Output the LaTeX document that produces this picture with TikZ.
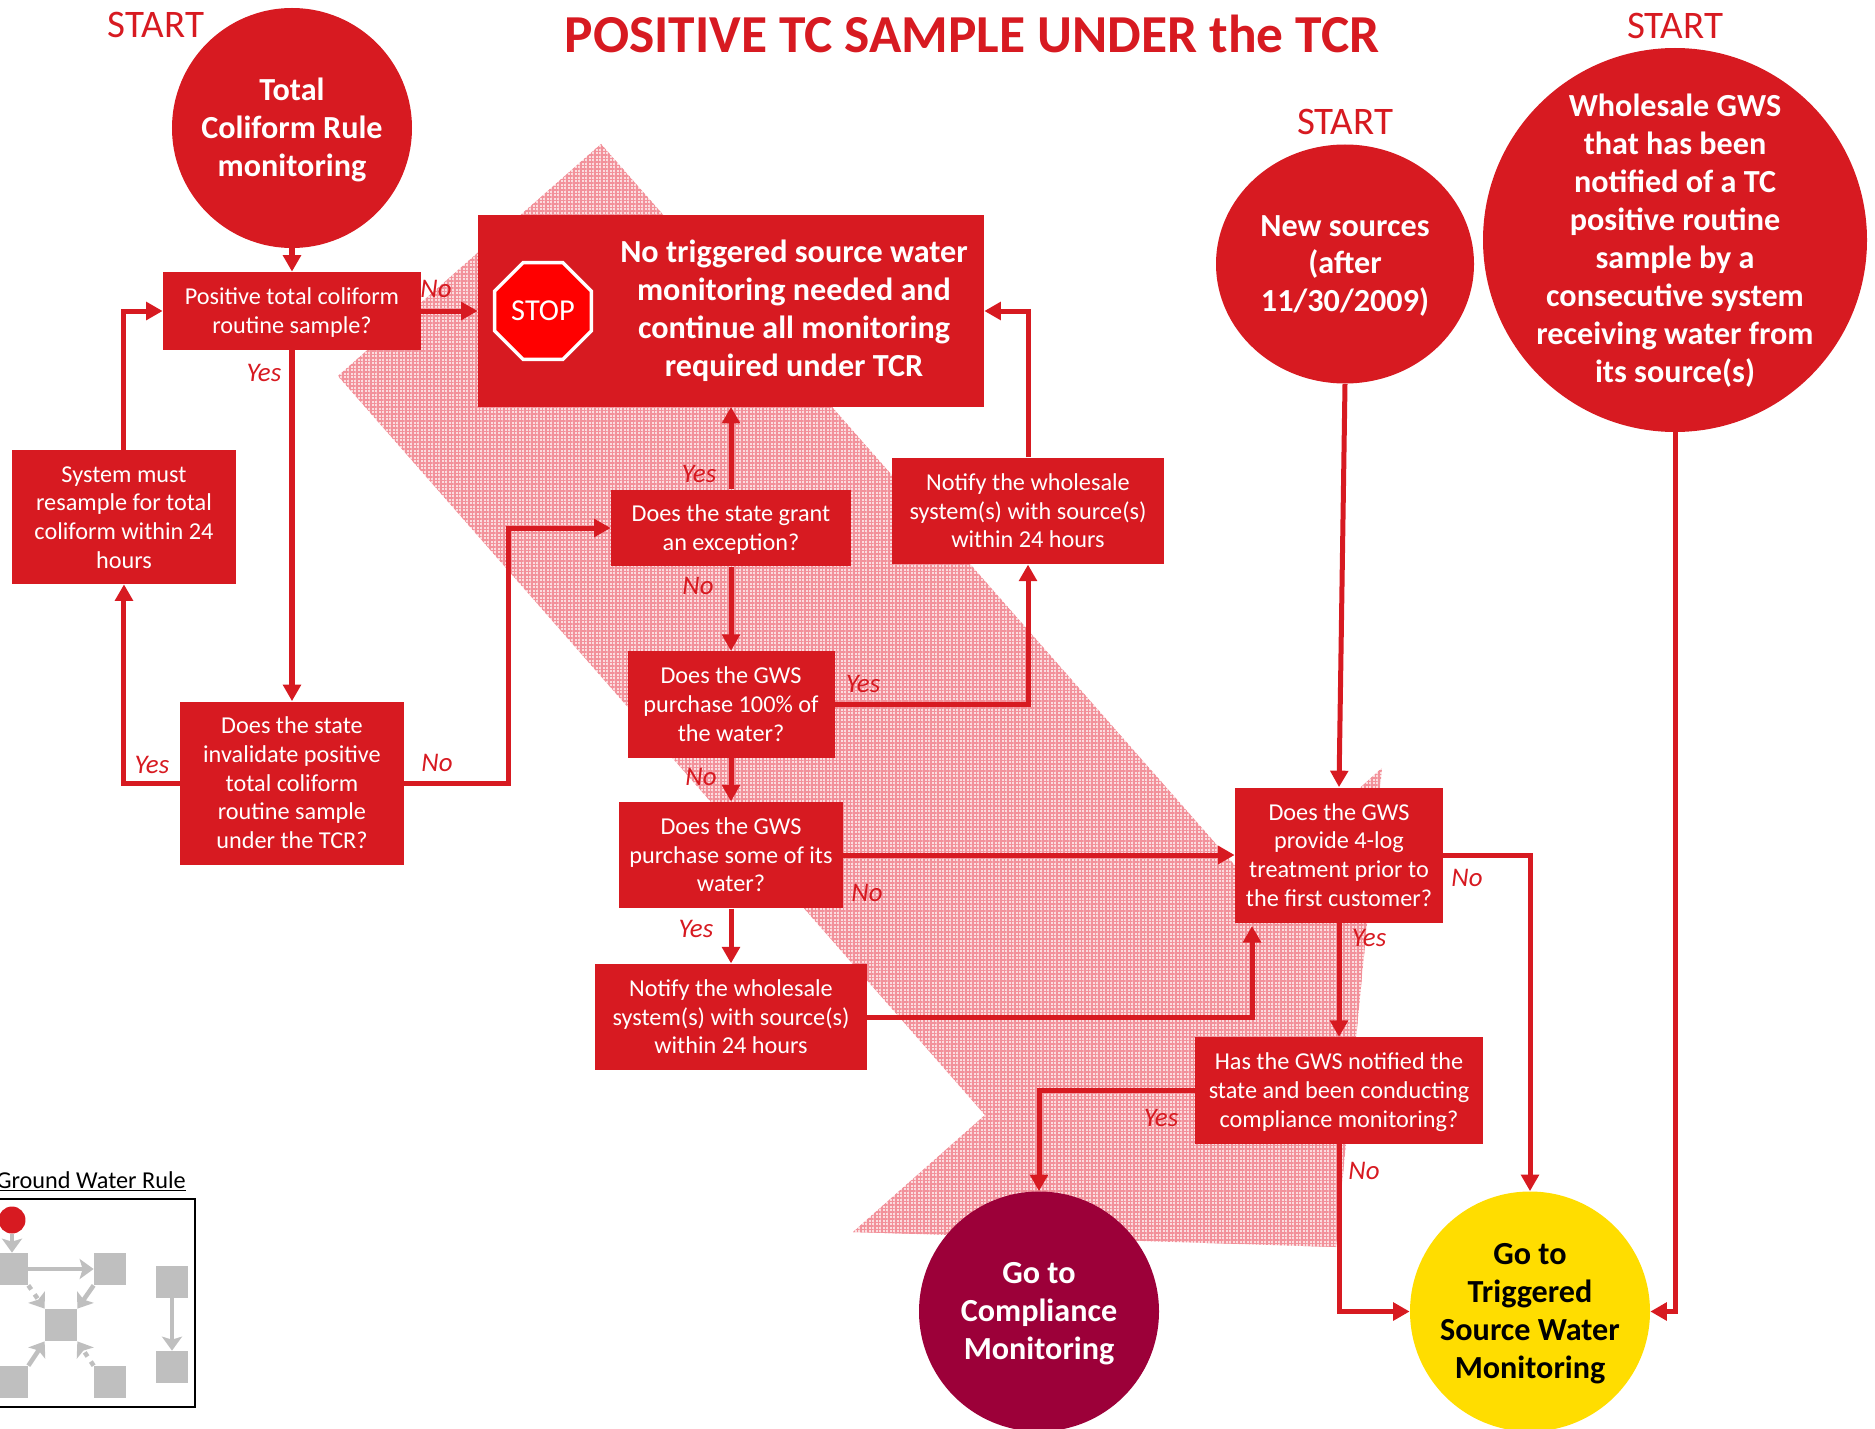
\documentclass[tikz,border=0pt]{standalone}
\usepackage{fontspec}
\setmainfont{Carlito}
\usepackage{tikz}
\usetikzlibrary{arrows.meta}
\usetikzlibrary{shapes,backgrounds,patterns.meta}
\definecolor{tcrred}{HTML}{D71A21}
\definecolor{stopred}{HTML}{FF0000}
\definecolor{maroon}{HTML}{9C0039}
\definecolor{goldy}{HTML}{FFDD00}
\definecolor{greybox}{HTML}{BFBFBF}
\definecolor{hatchred}{HTML}{F2919A}
\definecolor{hatchpink}{HTML}{FBDDDF}
\tikzset{hv/.style={to path={-| (\tikztotarget) \tikztonodes}},
         vh/.style={to path={|- (\tikztotarget) \tikztonodes}}}

\begin{document}
\begin{tikzpicture}[>={Triangle[length=0.33cm,width=0.35cm]},shorten >=0pt,auto,node distance=3cm,
                    flow/.style={->,color=tcrred,line width=0.1cm},
                    minor/.style={->,>={Stealth[length=0.28cm,width=0.4cm,inset=0.06cm]},color=greybox,line width=0.09cm},
                    red box/.style={rectangle,fill=tcrred,text=white,align=flush center,inner sep=0pt,
                      font=\fontsize{13.8}{16.3}\selectfont,
                      execute at begin node={\rule{0pt}{12.2pt}},
                      execute at end node={\rule[-3pt]{0pt}{0pt}}},
                    big text/.style={text=white,align=center,inner sep=0pt,yshift=-0.04cm,
                      font=\fontsize{18.3}{21.6}\selectfont\bfseries},
                    big node/.style={circle,fill=tcrred,minimum size=4.8cm,inner sep=0pt},
                    start/.style={text=tcrred,inner sep=0pt,font=\fontsize{22.2}{26}\selectfont},
                    answer/.style={text=tcrred,inner sep=0pt,font=\fontsize{15.3}{18}\selectfont\itshape},
                    mini box/.style={rectangle,fill=greybox,minimum size=0.64cm,inner sep=0pt}]

  \useasboundingbox (-5.84,2.56) rectangle (31.66,-26.02);

  % left column
  \node[big node] (total) {};
  \node[big text] (totaltext) [below of=total,node distance=0cm] {Total\\Coliform Rule\\monitoring};
  \node[red box,text width=5.16cm,minimum height=1.56cm] (positive) [below of=total,node distance=3.66cm] {Positive total coliform\\routine sample?};
  \node[red box,text width=4.46cm,minimum height=3.26cm] (invalidate) [below of=positive,node distance=9.44cm] {Does the state\\invalidate positive\\total coliform\\routine sample\\under the TCR?};
  \node[red box,text width=4.48cm,minimum height=2.68cm] (resample) [left of=invalidate,node distance=3.36cm,yshift=5.32cm] {System must\\resample for total\\coliform within 24\\hours};

  % middle column
  \node[red box,text width=10.12cm,minimum height=3.82cm] (stop) [right of=positive,node distance=8.78cm] {};
  \node[big text] (stoptext) [right of=stop,node distance=1.26cm,yshift=0.04cm] {No triggered source water\\monitoring needed and\\continue all monitoring\\required under TCR};
  \node[regular polygon,regular polygon sides=8,fill=stopred,draw=white,line width=0.07cm,minimum size=2.09cm,inner sep=0pt,
        text=white,font=\fontsize{17.3}{20}\selectfont] (sign) [left of=stop,node distance=3.76cm] {STOP};
  \node[red box,text width=4.8cm,minimum height=1.53cm] (grant) [below of=stop,node distance=4.34cm] {Does the state grant\\an exception?};
  \node[red box,text width=4.14cm,minimum height=2.13cm] (hundred) [below of=grant,node distance=3.53cm] {Does the GWS\\purchase 100\% of\\the water?};
  \node[red box,text width=4.48cm,minimum height=2.13cm] (some) [below of=hundred,node distance=3.01cm] {Does the GWS\\purchase some of its\\water?};
  \node[red box,text width=5.44cm,minimum height=2.13cm] (notifylow) [below of=some,node distance=3.24cm] {Notify the wholesale\\system(s) with source(s)\\within 24 hours};
  \node[red box,text width=5.44cm,minimum height=2.13cm] (notifyup) [right of=grant,node distance=5.94cm,yshift=0.34cm] {Notify the wholesale\\system(s) with source(s)\\within 24 hours};
  \coordinate[left of=grant,node distance=4.46cm] (turn);

  % right side
  \node[red box,text width=4.16cm,minimum height=2.7cm] (log) [right of=some,node distance=12.16cm] {Does the GWS\\provide 4-log\\treatment prior to\\the first customer?};
  \node[red box,text width=5.76cm,minimum height=2.13cm] (notified) [below of=log,node distance=4.71cm] {Has the GWS notified the\\state and been conducting\\compliance monitoring?};
  \coordinate[below of=log,node distance=1.42cm,xshift=-1.74cm] (logfoot);
  \node[ellipse,fill=tcrred,minimum width=5.16cm,minimum height=4.78cm,inner sep=0pt] (new) [above of=log,node distance=11.82cm,xshift=0.12cm] {};
  \node[big text] (newtext) [below of=new,node distance=0cm] {New sources\\(after\\11/30/2009)};
  \node[big node,minimum size=7.68cm] (whole) [right of=new,node distance=6.6cm,yshift=0.48cm] {};
  \node[big text] (wholetext) [below of=whole,node distance=0cm,yshift=0.02cm] {Wholesale GWS\\that has been\\notified of a TC\\positive routine\\sample by a\\consecutive system\\receiving water from\\its source(s)};
  \node[big node,fill=maroon] (compliance) [below of=notified,node distance=4.42cm,xshift=-6cm] {};
  \node[big text] (compliancetext) [below of=compliance,node distance=0cm] {Go to\\Compliance\\Monitoring};
  \node[big node,fill=goldy] (triggered) [right of=compliance,node distance=9.82cm] {};
  \node[big text,text=black] (triggeredtext) [below of=triggered,node distance=0cm] {Go to\\Triggered\\Source Water\\Monitoring};

  % hatched arrow
  \begin{scope}[on background layer]
    \fill[hatchpink] (6.18,-0.32) -- (19.2,-15.14) -- (21.8,-12.8) -- (20.88,-22.38)
      -- (11.22,-22.08) -- (13.86,-19.74) -- (0.92,-4.96) -- cycle;
    \fill[pattern={Lines[angle=0,distance=0.07cm,line width=0.03cm]},pattern color=hatchred]
      (6.18,-0.32) -- (19.2,-15.14) -- (21.8,-12.8) -- (20.88,-22.38)
      -- (11.22,-22.08) -- (13.86,-19.74) -- (0.92,-4.96) -- cycle;
    \fill[pattern={Lines[angle=90,distance=0.07cm,line width=0.03cm]},pattern color=hatchred]
      (6.18,-0.32) -- (19.2,-15.14) -- (21.8,-12.8) -- (20.88,-22.38)
      -- (11.22,-22.08) -- (13.86,-19.74) -- (0.92,-4.96) -- cycle;
  \end{scope}

  % titles
  \node[text=tcrred,inner sep=0pt,font=\fontsize{30.4}{36}\selectfont\bfseries] (title) [above of=stop,node distance=5.54cm,xshift=4.82cm] {POSITIVE TC SAMPLE UNDER the TCR};
  \node[start] (start1) [above of=total,node distance=2.06cm,xshift=-2.72cm] {START};
  \node[start] (start2) [above of=new,node distance=2.84cm] {START};
  \node[start] (start3) [above of=whole,node distance=4.28cm] {START};

  \path[flow]
    (total) edge (positive)
    (positive) edge (stop)
    	edge (invalidate)
    (invalidate) edge [hv] (resample)
    (resample) edge [vh] (positive)
    (grant) edge (stop)
    	edge (hundred)
    (hundred) edge (some)
    	edge [hv] (notifyup)
    (notifyup) edge [vh] (stop)
    (some) edge (notifylow)
    	edge (log)
    (notifylow) edge [hv] (logfoot)
    (new.south) edge (log.north)
    (log) edge (notified)
    	edge [hv] (triggered)
    (notified) edge [hv] (compliance)
    	edge [vh] (triggered)
    (whole) edge [vh] (triggered)
    ;
  \draw[flow] (invalidate) -| (turn) -- (grant);

  % yes and no
  \node[answer] (a1) [right of=positive,node distance=2.88cm,yshift=0.44cm] {No};
  \node[answer] (a2) [below of=positive,node distance=1.24cm,xshift=-0.56cm] {Yes};
  \node[answer] (a3) [left of=invalidate,node distance=2.8cm,yshift=0.36cm] {Yes};
  \node[answer] (a4) [right of=invalidate,node distance=2.9cm,yshift=0.4cm] {No};
  \node[answer] (a5) [above of=grant,node distance=1.08cm,xshift=-0.64cm] {Yes};
  \node[answer] (a6) [below of=grant,node distance=1.16cm,xshift=-0.66cm] {No};
  \node[answer] (a7) [right of=hundred,node distance=2.64cm,yshift=0.42cm] {Yes};
  \node[answer] (a8) [below of=hundred,node distance=1.44cm,xshift=-0.6cm] {No};
  \node[answer] (a9) [right of=some,node distance=2.72cm,yshift=-0.76cm] {No};
  \node[answer] (a10) [below of=some,node distance=1.48cm,xshift=-0.7cm] {Yes};
  \node[answer] (a11) [right of=log,node distance=2.56cm,yshift=-0.46cm] {No};
  \node[answer] (a12) [below of=log,node distance=1.66cm,xshift=0.6cm] {Yes};
  \node[answer] (a13) [left of=notified,node distance=3.56cm,yshift=-0.54cm] {Yes};
  \node[answer] (a14) [below of=notified,node distance=1.6cm,xshift=0.5cm] {No};

  % ground water rule key
  \node[rectangle,draw=black,line width=0.05cm,minimum width=4.2cm,minimum height=4.16cm,inner sep=0pt] (legend) [below of=total,node distance=23.5cm,xshift=-4.04cm] {};
  \node[inner sep=0pt,font=\fontsize{13.8}{16}\selectfont] (legendtitle) [above of=legend,node distance=2.43cm,xshift=0.02cm] {\underline{Ground Water Rule}};
  \node[mini box] (wa) [above of=legend,node distance=0.68cm,xshift=-1.56cm] {};
  \node[mini box] (wb) [right of=wa,node distance=1.96cm] {};
  \node[mini box] (wc) [below of=wa,node distance=1.12cm,xshift=0.98cm] {};
  \node[mini box] (wd) [below of=wa,node distance=2.26cm] {};
  \node[mini box] (we) [right of=wd,node distance=1.96cm] {};
  \node[mini box] (wf) [right of=wb,node distance=1.24cm,yshift=-0.26cm] {};
  \node[mini box] (wg) [below of=wf,node distance=1.7cm] {};
  \node[circle,fill=tcrred,minimum size=0.54cm,inner sep=0pt] (dot) [above of=wa,node distance=0.98cm] {};

  \path[minor]
    (dot) edge (wa)
    (wa) edge (wb)
    (wb.south west) edge (wc.north east)
    (wd.north east) edge (wc.south west)
    (wf) edge (wg)
    ;
  \path[minor,dash pattern=on 0.1cm off 0.12cm]
    (wa.south east) edge (wc.north west)
    (we.north west) edge (wc.south east)
    ;
\end{tikzpicture}
\end{document}
